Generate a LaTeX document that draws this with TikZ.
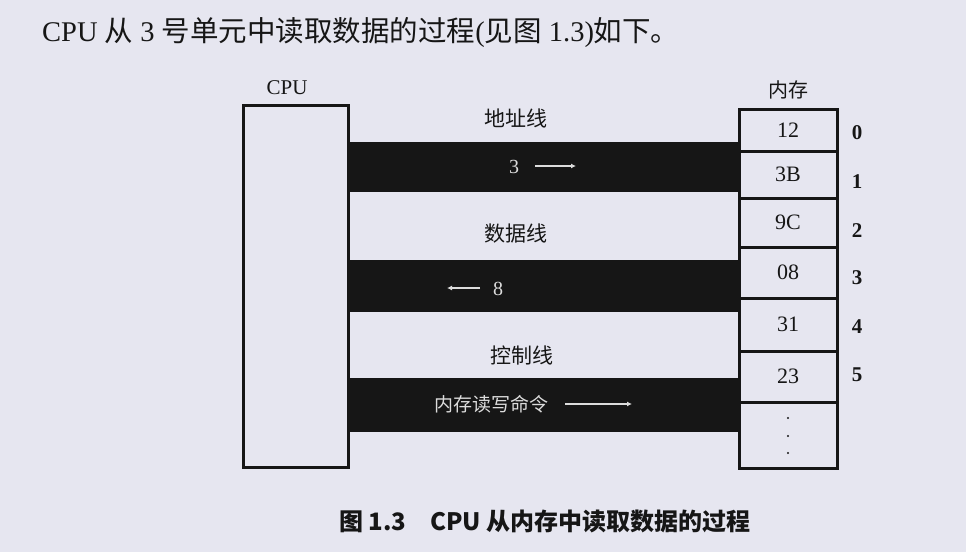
\documentclass[tikz,border=0pt]{standalone}
\usepackage{fontspec}
\setmainfont{Liberation Serif}
\newfontfamily\cjk{Noto Sans CJK SC}
\usetikzlibrary{arrows.meta}
\definecolor{bg}{HTML}{E6E6F0}
\definecolor{ink}{HTML}{161616}
\definecolor{lite}{HTML}{DCDCDC}
\tikzset{
  boxline/.style={draw=ink, line width=3pt},
  cell/.style={boxline, minimum width=98pt, inner sep=0pt, font=\fontsize{22}{24}\selectfont, text=ink},
  idx/.style={font=\bfseries\fontsize{21}{24}\selectfont, text=ink},
  buslbl/.style={font=\cjk\fontsize{21}{24}\selectfont, text=ink},
  bandtxt/.style={font=\fontsize{20}{22}\selectfont, text=lite},
  busarrow/.style={draw=lite, line width=1.8pt, -{Latex[length=5pt,width=5pt]}},
  band/.style={fill=ink}
}
\begin{document}
\begin{tikzpicture}[x=1pt,y=-1pt]
\fill[bg] (0,0) rectangle (966,552);
\useasboundingbox (0,0) rectangle (966,552);

% title
\node[anchor=base west, inner sep=0pt, text=ink, font=\fontsize{28.5}{32}\selectfont] (title) at (42,41)
  {CPU {\cjk 从} 3 {\cjk 号单元中读取数据的过程}({\cjk 见图} 1.3){\cjk 如下。}};

% bus bands
\fill[band] (348,142) rectangle (739,192);
\fill[band] (348,260) rectangle (739,312);
\fill[band] (348,378) rectangle (739,432);

% CPU
\node[boxline, fill=bg, minimum width=105pt, minimum height=362pt, inner sep=0pt] (cpu) at (295.5,286) {};
\node[text=ink, font=\fontsize{21}{24}\selectfont] (cpulbl) at (287,88) {CPU};

% memory
\node[text=ink, font=\cjk\fontsize{20}{22}\selectfont] (memlbl) at (788,90) {内存};
\node[cell, minimum height=42pt] (m0) at (788,130) {12};
\node[cell, minimum height=47pt] (m1) at (788,174.5) {3B};
\node[cell, minimum height=49pt] (m2) at (788,222.5) {9C};
\node[cell, minimum height=51pt] (m3) at (788,272.5) {08};
\node[cell, minimum height=53pt] (m4) at (788,324.5) {31};
\node[cell, minimum height=51pt] (m5) at (788,376.5) {23};
\node[cell, minimum height=66pt] (m6) at (788,435) {};
\fill[ink] (788,418) circle (1.2pt) (788,436) circle (1.2pt) (788,453) circle (1.2pt);

\node[idx] (i0) at (857,133) {0};
\node[idx] (i1) at (857,182) {1};
\node[idx] (i2) at (857,231) {2};
\node[idx] (i3) at (857,278) {3};
\node[idx] (i4) at (857,327) {4};
\node[idx] (i5) at (857,375) {5};

% bus labels
\node[buslbl] (addr) at (516,118) {地址线};
\node[buslbl] (data) at (516,234) {数据线};
\node[buslbl] (ctrl) at (522,355) {控制线};

% address bus content
\node[bandtxt] (a3) at (514,167) {3};
\coordinate (aS) at (535,166);
\coordinate (aE) at (576,166);
\draw[busarrow] (aS) -- (aE);

% data bus content
\node[bandtxt] (d8) at (498,289) {8};
\coordinate (dS) at (480,288);
\coordinate (dE) at (447,288);
\draw[busarrow] (dS) -- (dE);

% control bus content
\node[bandtxt, font=\cjk\fontsize{19}{22}\selectfont] (cmd) at (491,404) {内存读写命令};
\coordinate (cS) at (565,404);
\coordinate (cE) at (632,404);
\draw[busarrow] (cS) -- (cE);

% caption
\node[text=ink, font=\cjk\bfseries\fontsize{24}{26}\selectfont] (cap) at (545,521) {图 1.3\hspace{1em}CPU 从内存中读取数据的过程};
\end{tikzpicture}
\end{document}
